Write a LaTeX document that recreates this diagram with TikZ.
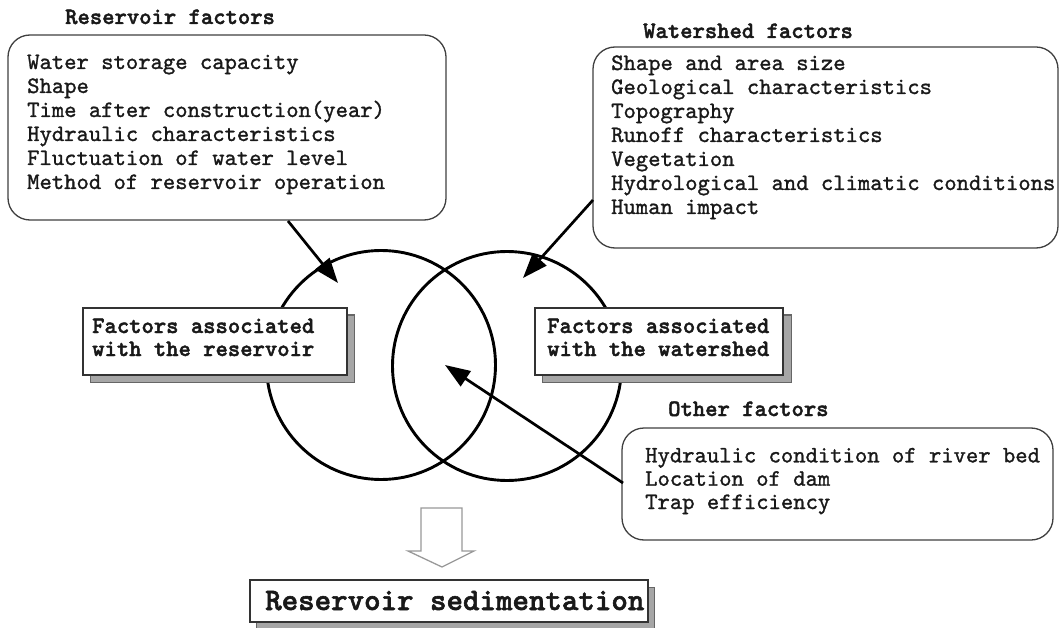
\documentclass[tikz,border=0pt]{standalone}
\usepackage{fontspec}
\newfontfamily\bodyfont{lmmono10-regular.otf}[FakeBold=1.2]
\newfontfamily\headfont{lmmonolt10-bold.otf}[FakeBold=1.8]
\usetikzlibrary{arrows.meta,calc}
\begin{document}
\begin{tikzpicture}[x=1pt,y=-1pt,
  txt/.style={anchor=base west, inner sep=0pt, align=left,
    font=\bodyfont\fontsize{23.5}{24}\selectfont, text=black!90},
  ttl/.style={anchor=base west, inner sep=0pt,
    font=\headfont\fontsize{23.5}{24}\selectfont, text=black!90},
  roundbox/.style={draw=black!75, line width=1.3pt, rounded corners=22pt, fill=white},
  assocbox/.style={draw=black!80, line width=1.2pt, fill=white},
  shade/.style={draw=black!60, line width=1pt, fill=black!35},
  ring/.style={draw=black, line width=2.9pt, circle, inner sep=0pt, minimum size=229pt},
  arr/.style={draw=black, line width=2.7pt, -{Triangle[length=25pt,width=18pt]}},
  hollow/.style={draw=black!40, line width=1.3pt, fill=white, line join=miter}
]
\useasboundingbox (0,0) rectangle (1060,628);
\fill[white] (0,0) rectangle (1060,628);

% circles
\node[ring] (cl) at (381,365) {};
\node[ring] (cr) at (507,366) {};

% reservoir factors box
\node[ttl] (tres) at (65,24) {Reservoir factors};
\draw[roundbox] (8,35) rectangle (446,220);
\coordinate (resbot) at (288,221);
\node[txt] (lres) at (27,189) {Water storage capacity\\Shape\\Time after construction(year)\\Hydraulic characteristics\\Fluctuation of water level\\Method of reservoir operation};

% watershed factors box
\node[ttl] (twat) at (643,38) {Watershed factors};
\draw[roundbox] (593,47) rectangle (1058,248);
\coordinate (watleft) at (593,200);
\node[txt] (lwat) at (611,214) {Shape and area size\\Geological characteristics\\Topography\\Runoff characteristics\\Vegetation\\Hydrological and climatic conditions\\Human impact};

% other factors box
\node[ttl] (toth) at (668,416) {Other factors};
\draw[roundbox] (622,428) rectangle (1053,540);
\coordinate (othleft) at (623,483);
\node[txt, font=\bodyfont\fontsize{23.5}{23.3}\selectfont] (loth) at (645,509) {Hydraulic condition of river bed\\Location of dam\\Trap efficiency};

% associated boxes
\draw[shade] (90,315) rectangle (354,382);
\draw[assocbox] (83,308) rectangle (347,375);
\node[ttl, align=left, font=\headfont\fontsize{23.5}{23}\selectfont] (ares) at (92,356) {Factors associated\\with the reservoir};

\draw[shade] (542,315) rectangle (791,382);
\draw[assocbox] (535,308) rectangle (783,375);
\node[ttl, align=left, font=\headfont\fontsize{23.5}{23}\selectfont] (awat) at (547,356) {Factors associated\\with the watershed};

% arrows
\coordinate (tipres) at (338,283);
\coordinate (tipwat) at (523,278);
\coordinate (tipoth) at (445,365);
\draw[arr] (resbot) -- (tipres);
\draw[arr] (watleft) -- (tipwat);
\draw[arr] (othleft) -- (tipoth);

% hollow arrow
\draw[hollow] (421,508) -- (421,551) -- (408,551) -- (442,567) -- (474,551) -- (462,551) -- (462,508) -- cycle;

% result box
\draw[shade] (256,587) rectangle (654,632);
\draw[assocbox] (250,580) rectangle (648,622);
\node[ttl, font=\headfont\fontsize{31.4}{32}\selectfont] (res) at (265,610) {Reservoir sedimentation};
\end{tikzpicture}
\end{document}
